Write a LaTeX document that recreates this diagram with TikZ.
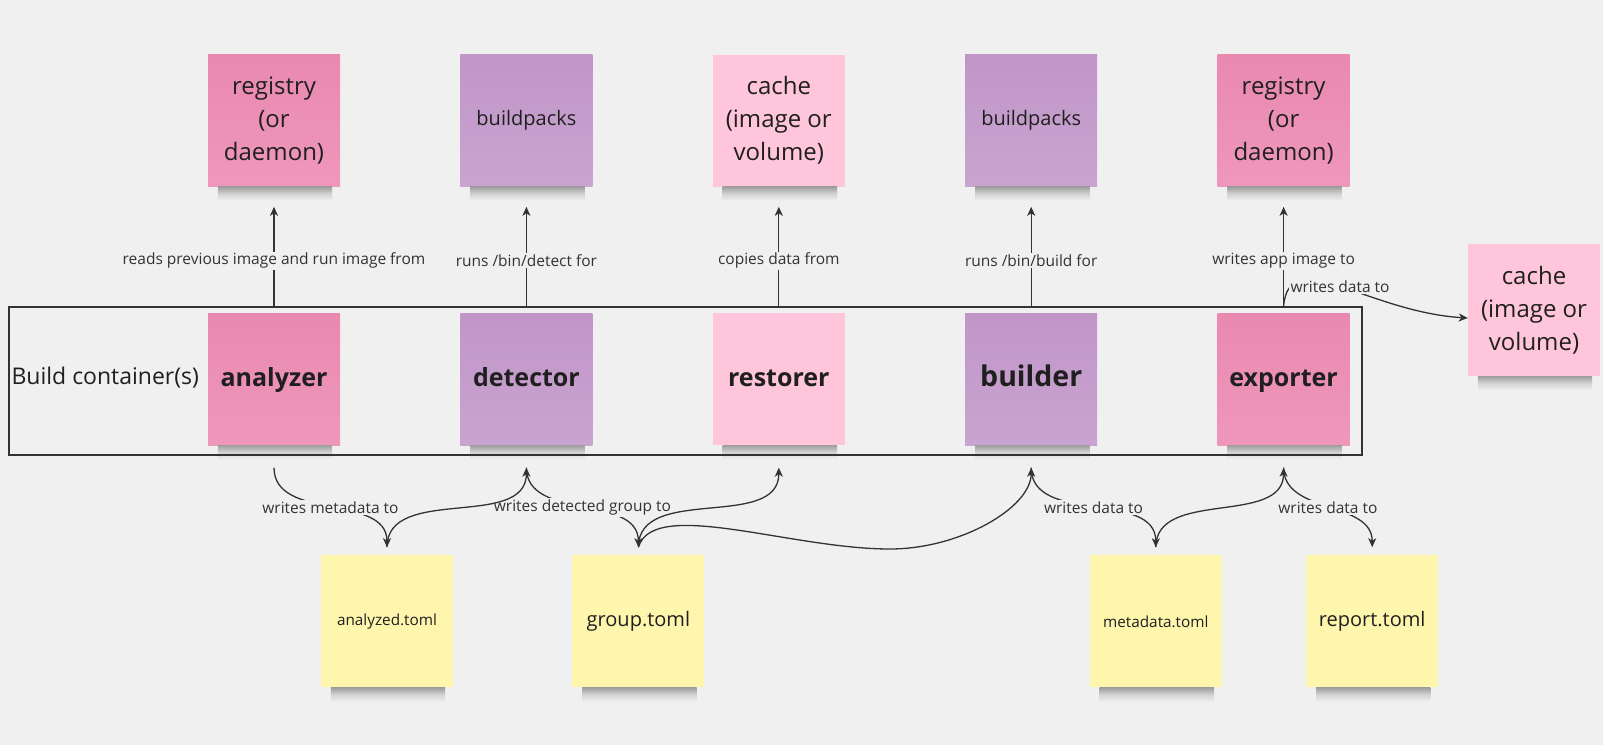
\documentclass[tikz,border=0pt]{standalone}
\usepackage{fontspec}
\setmainfont{Open Sans}
\usetikzlibrary{arrows.meta,positioning}

\definecolor{bgcol}{HTML}{F0F0F0}
\definecolor{inkcol}{HTML}{333333}
\definecolor{pinktop}{HTML}{E989B0}
\definecolor{pinkbot}{HTML}{EF97BB}
\definecolor{lilactop}{HTML}{C096C7}
\definecolor{lilacbot}{HTML}{CAA4D1}
\definecolor{rosecol}{HTML}{FFC5DA}
\definecolor{lemoncol}{HTML}{FFF6AE}

\begin{document}
\begin{tikzpicture}[x=1pt, y=-1pt,
            note/.style={minimum width=132pt, minimum height=132pt, inner sep=2pt,
                         align=center, text=black!88},
            hot/.style={note, top color=pinktop, bottom color=pinkbot},
            lilac/.style={note, top color=lilactop, bottom color=lilacbot},
            rose/.style={note, fill=rosecol},
            lemon/.style={note, fill=lemoncol},
            bigtext/.style={font=\fontsize{24}{33}\selectfont},
            midtext/.style={font=\fontsize{20}{26}\selectfont},
            smalltext/.style={font=\fontsize{15.3}{19}\selectfont},
            phase/.style={font=\bfseries\fontsize{25}{30}\selectfont, text height=19pt, text depth=5pt},
            shadowband/.style={top color=black!34!bgcol, bottom color=bgcol, middle color=black!12!bgcol},
            conn/.style={draw=inkcol, line width=1.3pt, -{Stealth[length=9pt,width=8pt,inset=2.5pt]}},
            lbl/.style={fill=bgcol, text=inkcol, inner sep=1.5pt, font=\fontsize{15.5}{18}\selectfont}]
            \fill[bgcol] (0,0) rectangle (1603,745);
            \useasboundingbox (0,0) rectangle (1603,745);

            % lifecycle phases
            \node[hot, phase]   (analyzer) at (274,379)         {analyzer};
            \node[lilac, phase] (detector) [right=120pt of analyzer] {detector};
            \node[rose, phase]  (restorer) [right=120pt of detector] {restorer};
            \node[lilac, phase, font=\bfseries\fontsize{28.5}{34}\selectfont]
                                (builder)  [right=120pt of restorer] {builder};
            \node[hot, phase]   (exporter) [right=120pt of builder]  {exporter};

            % what they talk to
            \node[hot, bigtext]   (registry-in)  [above=126pt of analyzer] {registry\\(or\\daemon)};
            \node[lilac, midtext] (bp-detect)    [above=126pt of detector] {buildpacks};
            \node[rose, bigtext]  (cache-in)     [above=126pt of restorer] {cache\\(image or\\volume)};
            \node[lilac, midtext] (bp-build)     [above=126pt of builder]  {buildpacks};
            \node[hot, bigtext]   (registry-out) [above=126pt of exporter] {registry\\(or\\daemon)};
            \node[rose, bigtext]  (cache-out)    [right=118pt of exporter, yshift=69pt] {cache\\(image or\\volume)};

            % files
            \node[lemon, smalltext] (analyzed) [below=110pt of analyzer, xshift=113pt] {analyzed.toml};
            \node[lemon, midtext]   (group)    [right=119pt of analyzed] {group.toml};
            \node[lemon, smalltext] (metadata) [right=385pt of group]    {metadata.toml};
            \node[lemon, midtext]   (report)   [right=84pt of metadata]  {report.toml};

            % sticky note shadows
            \foreach \n in {analyzer,detector,restorer,builder,exporter,registry-in,bp-detect,cache-in,
                            bp-build,registry-out,cache-out,analyzed,group,metadata,report}
                \shade[shadowband] ([xshift=10pt]\n.south west) rectangle ([xshift=-8pt,yshift=-14pt]\n.south east);

            \node[draw=inkcol, line width=1.3pt, minimum width=1353pt, minimum height=148pt] (box) at (685.5,381) {};
            \node[anchor=west, inner sep=0pt, text=black!88, font=\fontsize{23}{28}\selectfont]
                (boxlabel) at ([xshift=3pt,yshift=3pt]box.west) {Build container(s)};

            \foreach \n in {analyzer,detector,restorer,builder,exporter} {
                \coordinate (\n-top) at (\n.north |- box.north);
                \path (\n.south |- box.south) ++(0,12) coordinate (\n-bot);
            }
            \foreach \n in {analyzed,group,metadata,report}
                \path (\n.north) ++(0,-8) coordinate (\n-top);
            \coordinate (dip) at (890,549);

            % upwards
            \draw[conn, shorten >=20pt] (analyzer-top) -- node[lbl, pos=.38] {reads previous image and run image from} (registry-in);
            \draw[conn, shorten >=20pt] (detector-top) -- node[lbl, pos=.38] {runs /bin/detect for} (bp-detect);
            \draw[conn, shorten >=20pt] (restorer-top) -- node[lbl, pos=.38] {copies data from} (cache-in);
            \draw[conn, shorten >=20pt] (builder-top)  -- node[lbl, pos=.38] {runs /bin/build for} (bp-build);
            \draw[conn, shorten >=20pt] (exporter-top) -- node[lbl, pos=.38] {writes app image to} (registry-out);
            \draw[conn] (exporter-top) .. controls +(5,-63) and +(-100,-6) .. ([yshift=-8pt]cache-out.west)
                node[lbl, pos=.5] {writes data to};

            % downwards
            \draw[conn] (analyzer-bot) to[out=-90, in=90] node[lbl] {writes metadata to} (analyzed-top);
            \draw[conn] (detector-bot) to[out=-90, in=90] node[lbl] {writes detected group to} (group-top);
            \draw[conn] (analyzed-top) to[out=90, in=-90] (detector-bot);
            \draw[conn] (group-top) to[out=90, in=-90] (restorer-bot);
            \draw[conn] (group-top) .. controls +(15,-50) and +(-100,0) .. (dip)
                                    .. controls +(70,0) and +(0,40) .. (builder-bot);
            \draw[conn] (builder-bot) to[out=-90, in=90] node[lbl] {writes data to} (metadata-top);
            \draw[conn] (metadata-top) to[out=90, in=-90] (exporter-bot);
            \draw[conn] (exporter-bot) to[out=-90, in=90] node[lbl] {writes data to} (report-top);
\end{tikzpicture}
\end{document}
